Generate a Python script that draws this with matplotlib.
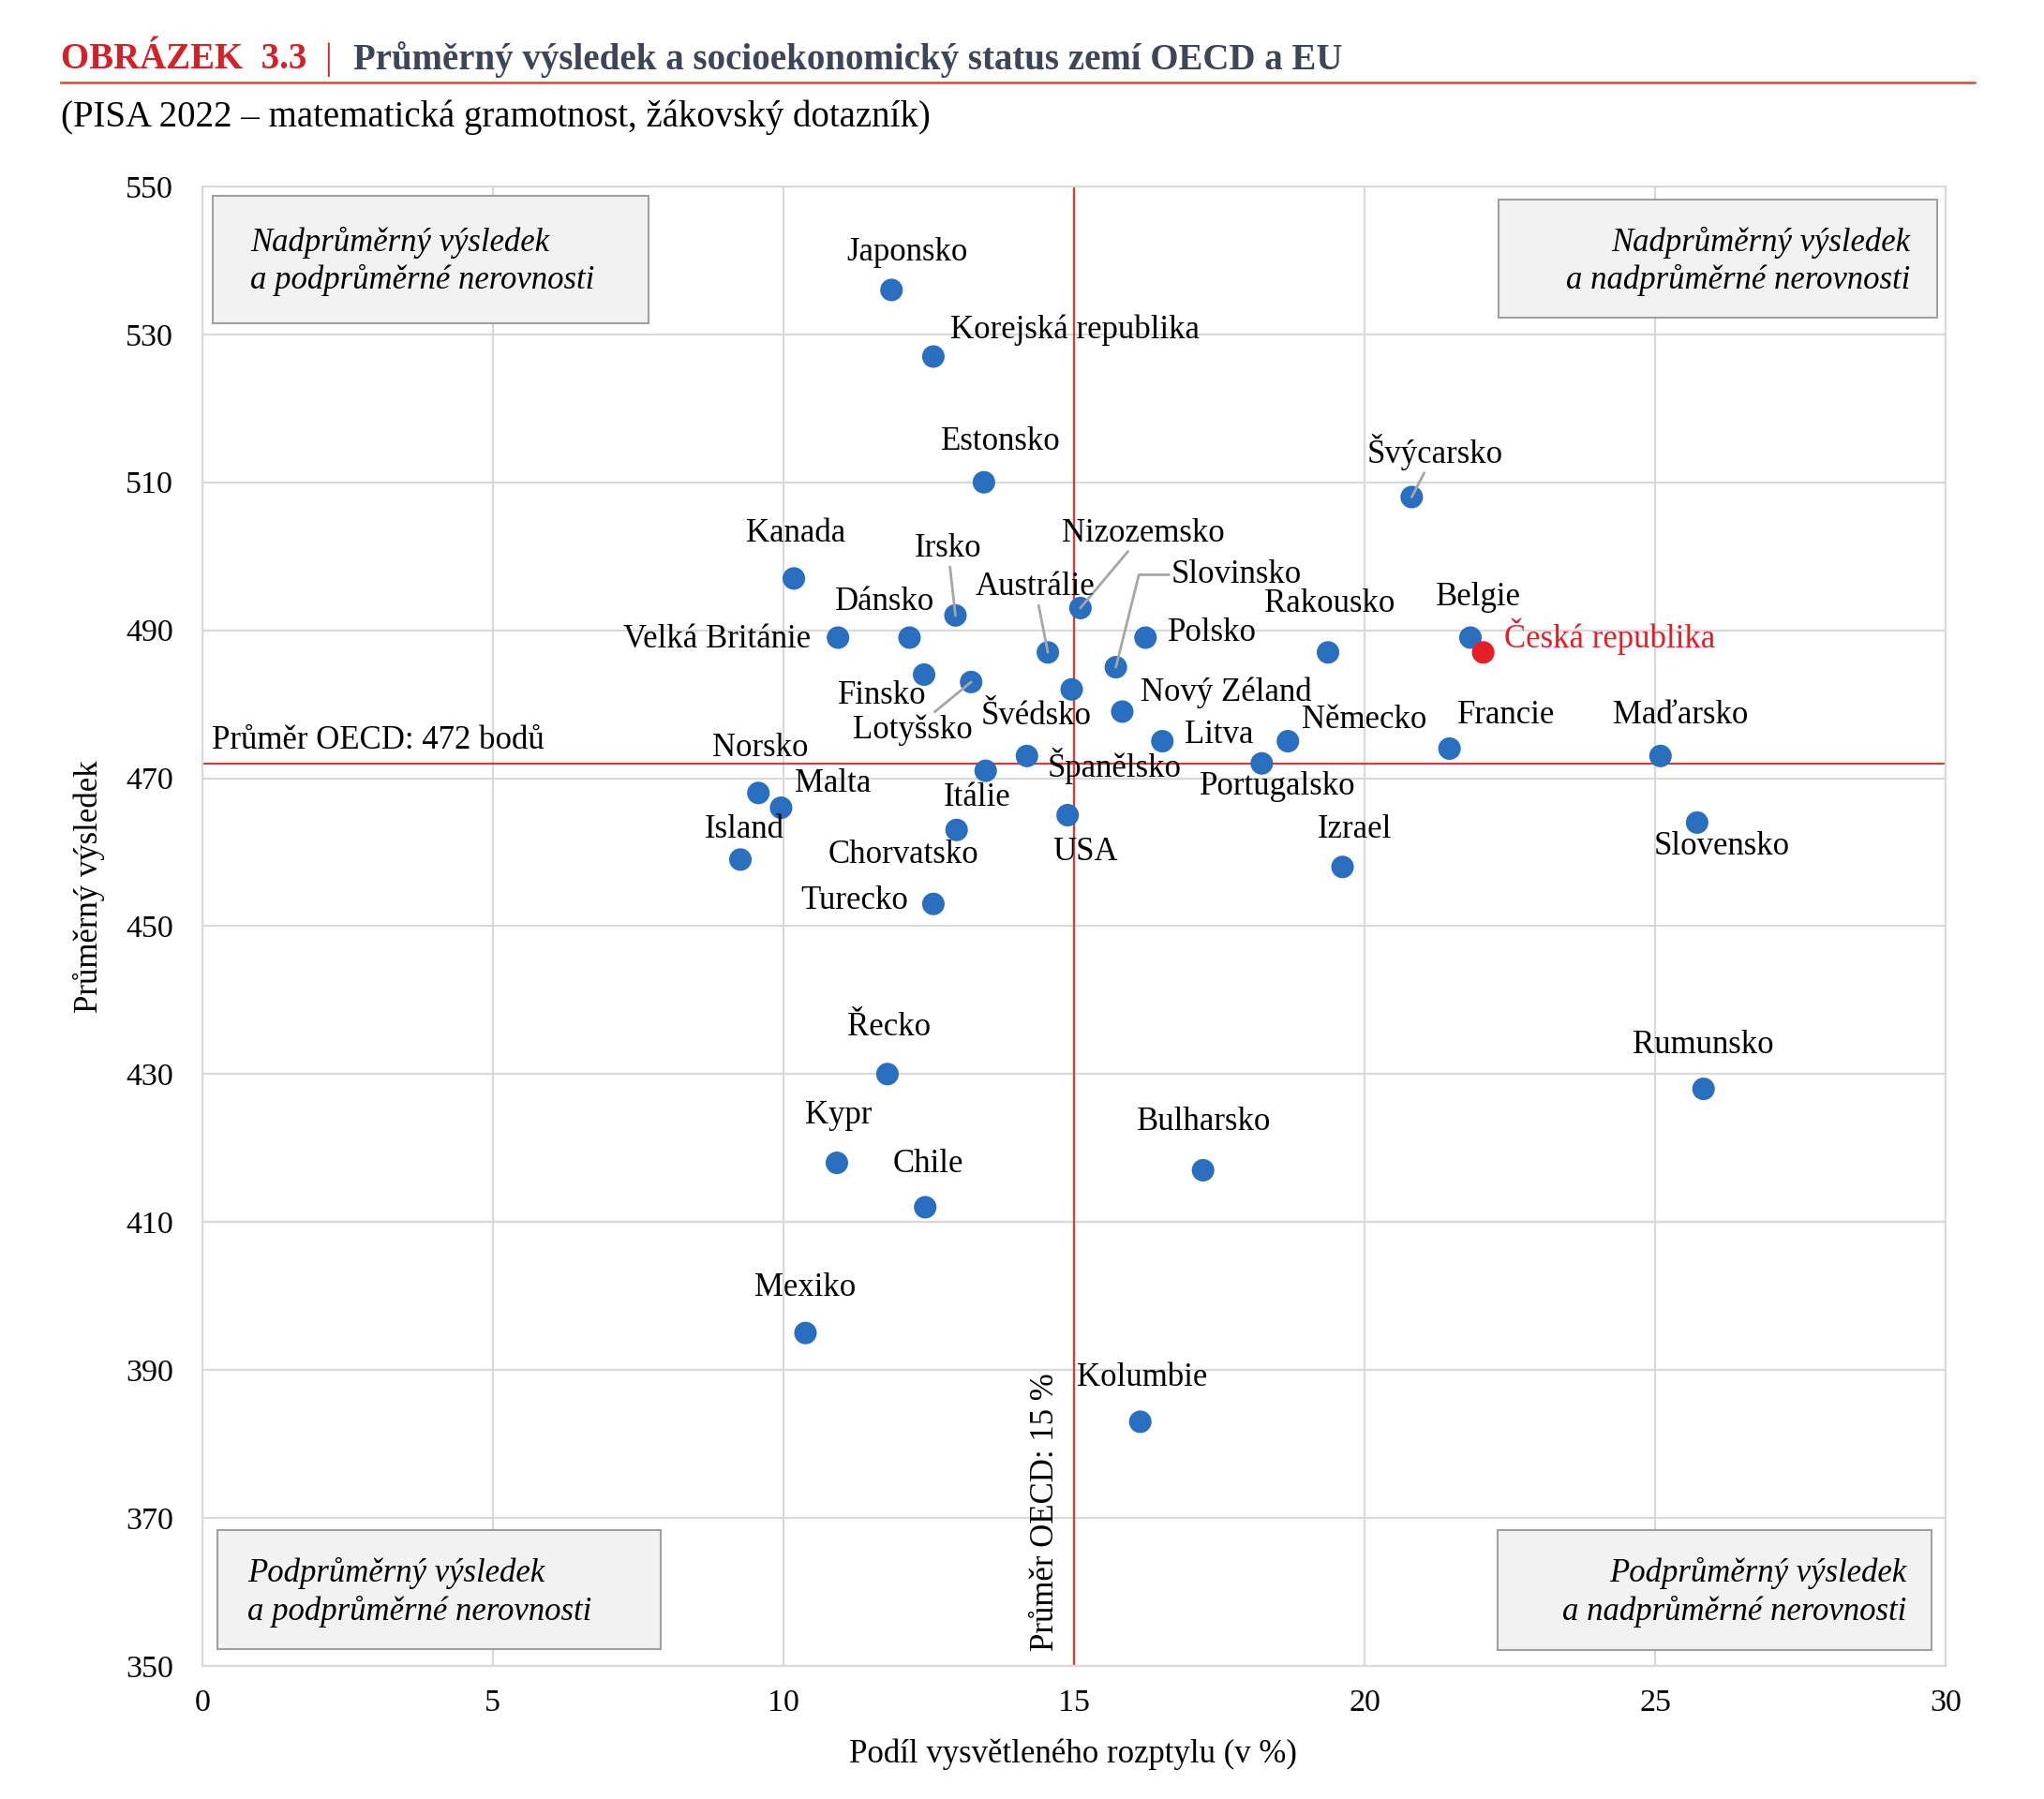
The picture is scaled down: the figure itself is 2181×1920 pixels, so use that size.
import matplotlib
matplotlib.use("Agg")
import matplotlib.pyplot as plt
from matplotlib.patches import Rectangle

# ---------------- data ----------------
countries = ["Japonsko", "Korejská republika", "Estonsko", "Švýcarsko", "Kanada",
             "Nizozemsko", "Irsko", "Belgie", "Dánsko", "Velká Británie", "Polsko",
             "Rakousko", "Austrálie", "Česká republika", "Slovinsko", "Finsko",
             "Lotyšsko", "Švédsko", "Nový Zéland", "Litva", "Německo", "Francie",
             "Španělsko", "Maďarsko", "Portugalsko", "Itálie", "Norsko", "Malta",
             "USA", "Slovensko", "Chorvatsko", "Island", "Izrael", "Turecko",
             "Řecko", "Rumunsko", "Kypr", "Bulharsko", "Chile", "Mexiko", "Kolumbie"]
variance_pct = [11.86, 12.58, 13.45, 20.81, 10.18,
                15.11, 12.96, 21.82, 12.17, 10.94, 16.23,
                19.37, 14.55, 22.04, 15.72, 12.42,
                13.23, 14.96, 15.83, 16.52, 18.68, 21.46,
                14.19, 25.09, 18.23, 13.48, 9.57, 9.96,
                14.89, 25.72, 12.98, 9.26, 19.62, 12.58,
                11.79, 25.83, 10.92, 17.22, 12.44, 10.38, 16.14]
mean_score = [536, 527, 510, 508, 497,
              493, 492, 489, 489, 489, 489,
              487, 487, 487, 485, 484,
              483, 482, 479, 475, 475, 474,
              473, 473, 472, 471, 468, 466,
              465, 464, 463, 459, 458, 453,
              430, 428, 418, 417, 412, 395, 383]
oecd_mean_score = 472
oecd_mean_variance = 15
highlight = "Česká republika"

x_ticks = [0, 5, 10, 15, 20, 25, 30]
y_ticks = [350, 370, 390, 410, 430, 450, 470, 490, 510, 530, 550]

# ---------------- layout of labels (data coords of text) ----------------
label_pos = {
    "Japonsko": (12.13, 541.0, "center"),
    "Korejská republika": (12.87, 530.6, "left"),
    "Estonsko": (13.74, 515.5, "center"),
    "Švýcarsko": (21.21, 514.1, "center"),
    "Kanada": (10.22, 503.1, "center"),
    "Irsko": (12.83, 501.0, "center"),
    "Nizozemsko": (16.19, 503.1, "center"),
    "Slovinsko": (17.80, 497.5, "center"),
    "Austrálie": (14.33, 495.8, "center"),
    "Dánsko": (11.75, 493.8, "center"),
    "Velká Británie": (10.47, 488.7, "right"),
    "Polsko": (16.61, 489.6, "left"),
    "Rakousko": (19.39, 493.5, "center"),
    "Belgie": (21.95, 494.5, "center"),
    "Česká republika": (22.40, 489.2, "left"),
    "Finsko": (11.70, 481.1, "center"),
    "Lotyšsko": (12.22, 476.5, "center"),
    "Nový Zéland": (17.62, 481.6, "center"),
    "Švédsko": (14.35, 478.3, "center"),
    "Litva": (16.91, 475.8, "left"),
    "Německo": (20.0, 477.8, "center"),
    "Francie": (22.44, 478.5, "center"),
    "Maďarsko": (25.43, 478.5, "center"),
    "Norsko": (9.60, 474.1, "center"),
    "Španělsko": (15.70, 471.6, "center"),
    "Malta": (10.85, 469.3, "center"),
    "Portugalsko": (18.50, 468.8, "center"),
    "Itálie": (13.34, 467.4, "center"),
    "Island": (9.33, 463.0, "center"),
    "Izrael": (19.82, 463.0, "center"),
    "Chorvatsko": (12.06, 459.6, "center"),
    "USA": (15.20, 460.0, "center"),
    "Slovensko": (26.14, 460.8, "center"),
    "Turecko": (12.15, 453.4, "right"),
    "Řecko": (11.82, 436.3, "center"),
    "Rumunsko": (25.83, 433.9, "center"),
    "Kypr": (10.94, 424.4, "center"),
    "Bulharsko": (17.24, 423.5, "center"),
    "Chile": (12.49, 417.8, "center"),
    "Mexiko": (10.38, 401.1, "center"),
    "Kolumbie": (16.17, 389.0, "center"),
}
leaders = {"Švýcarsko": "arc3,rad=0", "Irsko": "arc3,rad=0", "Nizozemsko": "arc3,rad=0",
           "Austrálie": "arc3,rad=0", "Lotyšsko": "arc3,rad=0",
           "Slovinsko": "angle,angleA=0,angleB=76,rad=0"}

# ---------------- style ----------------
FONT = ["Liberation Serif", "DejaVu Serif"]
plt.rcParams["font.family"] = FONT
BLUE = "#2a6ebf"
RED = "#e31e24"
REFRED = "#e2392f"
GRID = "#d9d9d9"
LEADER = "#a6a6a6"
FS = 25

fig = plt.figure(figsize=(21.81, 19.20), dpi=100)
ax = fig.add_axes([0.0989, 0.074, 0.8531, 0.8224])
ax.set_xlim(0, 30)
ax.set_ylim(350, 550)
ax.set_xticks(x_ticks)
ax.set_yticks(y_ticks)
ax.tick_params(length=0, labelsize=24.5)
ax.tick_params(axis="y", pad=22)
ax.tick_params(axis="x", pad=18)
ax.grid(True, color=GRID, lw=1.6, zorder=0)
ax.set_axisbelow(True)
for sp in ax.spines.values():
    sp.set_color(GRID)
    sp.set_linewidth(1.6)

# reference lines
ax.axhline(oecd_mean_score, color=REFRED, lw=1.6, zorder=1)
ax.axvline(oecd_mean_variance, color=REFRED, lw=1.6, zorder=1)
ax.text(0.16, oecd_mean_score + 1.0, "Průměr OECD: 472 bodů", fontsize=FS,
        ha="left", va="bottom", zorder=3)
ax.text(14.78, 352, "Průměr OECD: 15 %", fontsize=FS, rotation=90,
        ha="right", va="bottom", zorder=3)

# points
colors = [RED if c == highlight else BLUE for c in countries]
ax.scatter(variance_pct, mean_score, s=300, c=colors, edgecolors="none", zorder=4)

# labels
for c, x, y in zip(countries, variance_pct, mean_score):
    tx, ty, ha = label_pos[c]
    col = RED if c == highlight else "black"
    if c in leaders:
        ax.annotate(c, xy=(x, y), xytext=(tx, ty), fontsize=FS, color=col,
                    ha=ha, va="center", zorder=5,
                    arrowprops=dict(arrowstyle="-", color=LEADER, lw=2.0,
                                    shrinkA=0, shrinkB=0,
                                    connectionstyle=leaders[c]))
    else:
        ax.text(tx, ty, c, fontsize=FS, color=col, ha=ha, va="center", zorder=5)

# quadrant boxes
boxes = [
    ((0.006, 0.9075, 0.250, 0.0863), 0.0277, "left", (0.962, 0.9366),
     ("Nadprůměrný výsledek", "a podprůměrné nerovnosti")),
    ((0.7437, 0.911, 0.2511, 0.0802), 0.9798, "right", (0.962, 0.9366),
     ("Nadprůměrný výsledek", "a nadprůměrné nerovnosti")),
    ((0.009, 0.0115, 0.254, 0.0801), 0.026, "left", (0.0626, 0.037),
     ("Podprůměrný výsledek", "a podprůměrné nerovnosti")),
    ((0.743, 0.0106, 0.2488, 0.081), 0.9776, "right", (0.0626, 0.037),
     ("Podprůměrný výsledek", "a nadprůměrné nerovnosti")),
]
for (bx, by, bw, bh), tx, ha, (y1, y2), (l1, l2) in boxes:
    ax.add_patch(Rectangle((bx, by), bw, bh, transform=ax.transAxes,
                           facecolor="#f2f2f2", edgecolor="#a0a0a0", lw=1.5, zorder=6))
    ax.text(tx, y1, l1, transform=ax.transAxes, fontsize=FS, style="italic",
            ha=ha, va="center", zorder=7)
    ax.text(tx, y2, l2, transform=ax.transAxes, fontsize=FS, style="italic",
            ha=ha, va="center", zorder=7)

# axis titles
fig.text(0.0436, 0.507, "Průměrný výsledek", rotation=90, fontsize=FS,
         ha="center", va="center")
fig.text(0.525, 0.025, "Podíl vysvětleného rozptylu (v %)", fontsize=FS,
         ha="center", va="center")

# header
fig.text(0.0298, 0.967, "OBRÁZEK  3.3", fontsize=28, fontweight="bold",
         color="#d42027", ha="left", va="center")
fig.text(0.1585, 0.967, "|", fontsize=28, color="#d42027", ha="left", va="center")
fig.text(0.1729, 0.967, "Průměrný výsledek a socioekonomický status zemí OECD a EU",
         fontsize=28, fontweight="bold", color="#3d4656", ha="left", va="center")
fig.add_artist(plt.Line2D([0.0298, 0.966], [0.954, 0.954], transform=fig.transFigure,
                          color="#d9473f", lw=1.8))
fig.text(0.0298, 0.935, "(PISA 2022 – matematická gramotnost, žákovský dotazník)",
         fontsize=28, color="black", ha="left", va="center")

fig.savefig("out.png", dpi=100, facecolor="white")
